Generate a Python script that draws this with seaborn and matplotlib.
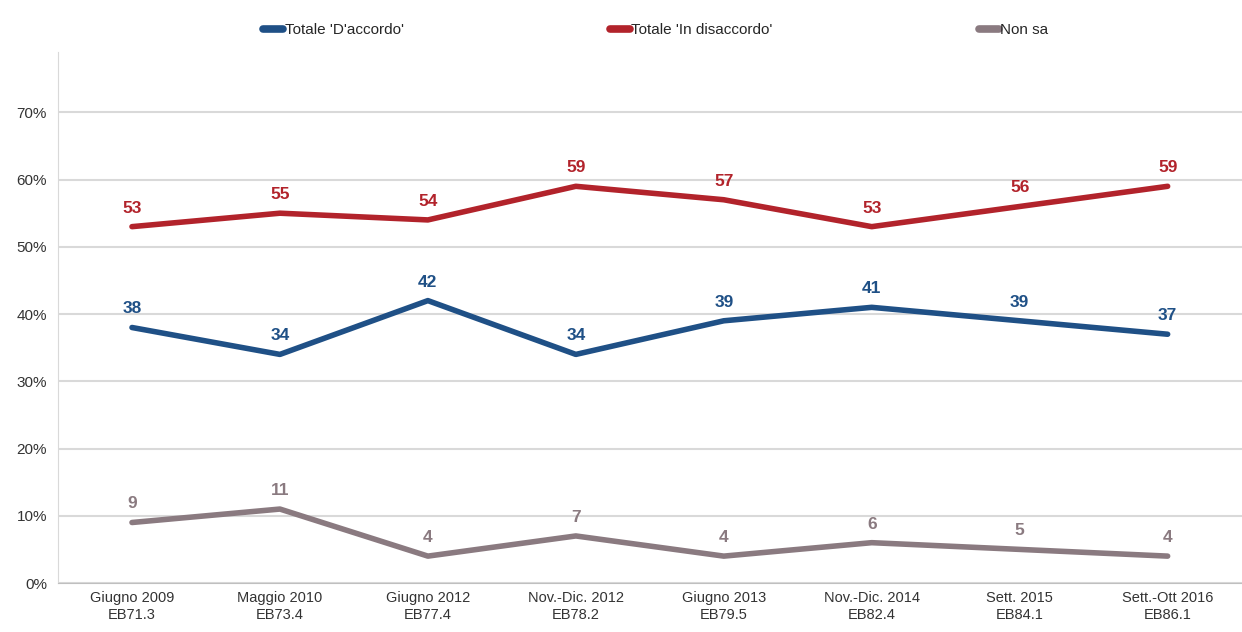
import numpy as np
import pandas as pd
import matplotlib
matplotlib.use('Agg')
import matplotlib.pyplot as plt
import seaborn as sns

categories = ["Giugno 2009\nEB71.3", "Maggio 2010\nEB73.4", "Giugno 2012\nEB77.4",
              "Nov.-Dic. 2012\nEB78.2", "Giugno 2013\nEB79.5", "Nov.-Dic. 2014\nEB82.4",
              "Sett. 2015\nEB84.1", "Sett.-Ott 2016\nEB86.1"]
accordo = [38, 34, 42, 34, 39, 41, 39, 37]
disaccordo = [53, 55, 54, 59, 57, 53, 56, 59]
non_sa = [9, 11, 4, 7, 4, 6, 5, 4]

series_names = ["Totale 'D'accordo'", "Totale 'In disaccordo'", "Non sa"]
colors = ["#1F5086", "#B2232B", "#8A7A80"]

rows = []
for name, vals in zip(series_names, [accordo, disaccordo, non_sa]):
    for i, v in enumerate(vals):
        rows.append({"pos": i, "value": v, "serie": name})
df = pd.DataFrame(rows)

sns.set_style("white")
plt.rcParams['font.family'] = ['Liberation Sans', 'DejaVu Sans']

fig = plt.figure(figsize=(12.42, 6.32), dpi=100)
ax = fig.add_axes([0.0467, 0.0775, 0.953, 0.8405])

sns.lineplot(data=df, x="pos", y="value", hue="serie", palette=colors,
             hue_order=series_names, linewidth=4, ax=ax, legend=False,
             solid_capstyle="round")

for name, vals, c in zip(series_names, [accordo, disaccordo, non_sa], colors):
    for i, v in enumerate(vals):
        ax.annotate(str(v), (i, v), xytext=(0, 8), textcoords="offset points",
                    ha="center", va="bottom", color=c, fontsize=12.5, fontweight="bold")

ax.set_xlim(-0.5, 7.5)
ax.set_ylim(0, 79)
ax.set_yticks(np.arange(0, 71, 10))
ax.set_yticklabels([f"{t}%" for t in range(0, 71, 10)], fontsize=11, color="#333333")
ax.set_xticks(range(len(categories)))
ax.set_xticklabels(categories, fontsize=10.5, color="#333333")
ax.set_xticks(np.arange(0.5, 7, 1), minor=True)
ax.tick_params(axis="x", which="major", length=0, pad=6)
ax.tick_params(axis="x", which="minor", length=5, color="#bfbfbf", width=1)
ax.tick_params(axis="y", length=0, pad=8)
ax.grid(axis="y", color="#d9d9d9", linewidth=1.5)
ax.set_axisbelow(True)
ax.set_xlabel("")
ax.set_ylabel("")
for s in ["top", "right"]:
    ax.spines[s].set_visible(False)
ax.spines["left"].set_color("#d9d9d9")
ax.spines["bottom"].set_color("#bfbfbf")

handles = [plt.Line2D([0], [0], color=c, linewidth=5.5, solid_capstyle="round") for c in colors]
fig.legend(handles, series_names, loc="upper center", bbox_to_anchor=(0.528, 0.985),
           ncol=3, frameon=False, fontsize=11, handlelength=1.3, handletextpad=0.1,
           columnspacing=13.5)

fig.savefig("out.png", dpi=100)
